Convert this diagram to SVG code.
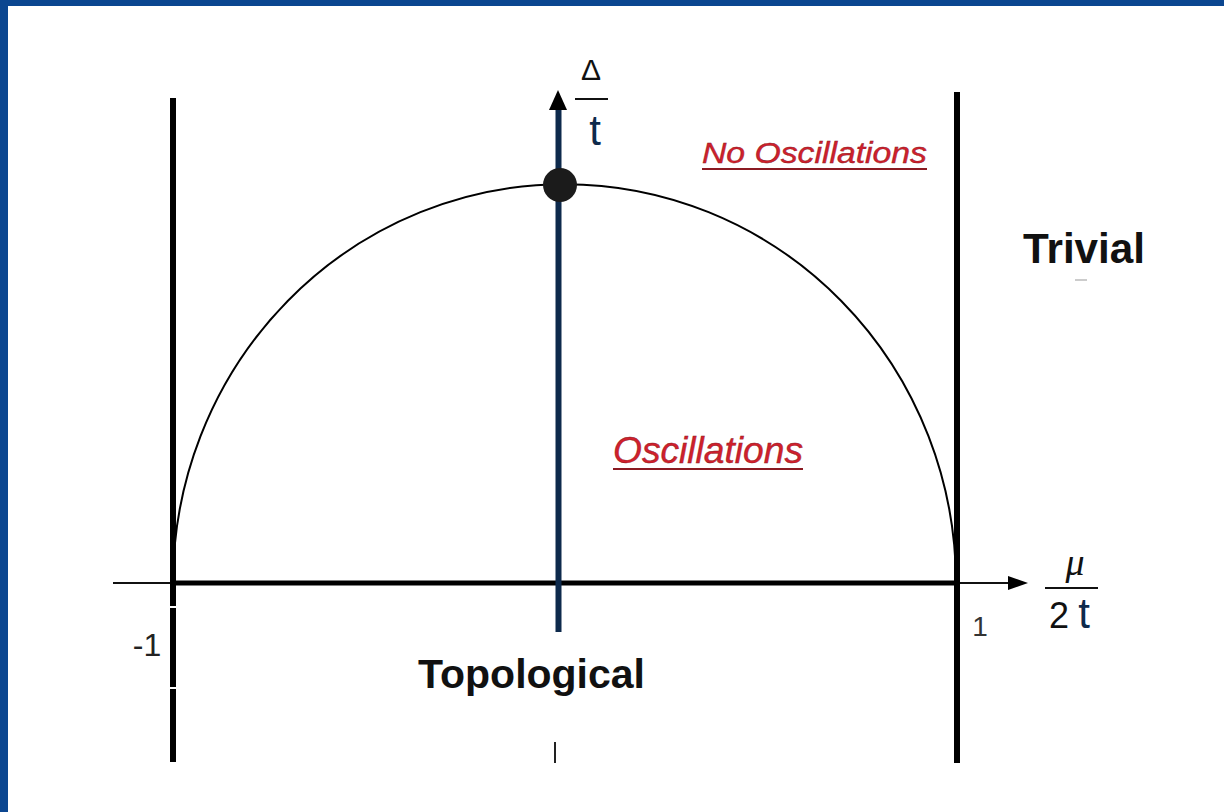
<svg xmlns="http://www.w3.org/2000/svg" width="1224" height="812" viewBox="0 0 1224 812">
<style>
.lbl{font-family:"Liberation Sans",Arial,sans-serif;fill:#111}
.bold{font-weight:bold}
.red{font-family:"Liberation Sans",Arial,sans-serif;font-style:italic;fill:#d0202c;stroke:#8a1a22;stroke-width:0.4}
.thick{stroke:#000;stroke-width:6;fill:none}
.thin{stroke:#111;stroke-width:2;fill:none}
</style>
<rect x="0" y="0" width="1224" height="812" fill="#0b4690"/>
<rect x="8" y="6" width="1216" height="806" fill="#ffffff"/>
<g id="connectors">
  <line class="thin" x1="113" y1="583" x2="1012" y2="583"/>
  <line x1="173" y1="583" x2="956" y2="583" stroke="#000" stroke-width="5"/>
  <polygon points="1008,576 1028,583 1008,590" fill="#000"/>
  <line class="thick" x1="173" y1="98" x2="173" y2="762"/>
  <rect x="168" y="606" width="10" height="2" fill="#fff"/>
  <rect x="168" y="687" width="10" height="2" fill="#fff"/>
  <line class="thick" x1="957" y1="92" x2="957" y2="763"/>
  <path d="M173,583 A391.5,399 0 0 1 956,583" stroke="#000" stroke-width="2" fill="none"/>
  <line x1="558.5" y1="108" x2="558.5" y2="632" stroke="#0e2a4c" stroke-width="6"/>
  <polygon points="558,90 567,110 549,110" fill="#000"/>
  <line x1="555" y1="742" x2="555" y2="763" stroke="#222" stroke-width="2"/>
  <line x1="1075" y1="280" x2="1087" y2="280" stroke="#bbb" stroke-width="1.5"/>
</g>
<g id="apex">
  <circle cx="560" cy="185" r="17" fill="#1b1b1b"/>
</g>
<g id="y-label">
  <text class="lbl" x="591" y="80" font-size="30" text-anchor="middle">Δ</text>
  <line x1="575" y1="99" x2="608" y2="99" stroke="#111" stroke-width="2"/>
  <text class="lbl" x="595" y="145" font-size="42" text-anchor="middle" style="fill:#0e2a4c">t</text>
</g>
<g id="x-label">
  <text x="1075" y="575" font-size="38" font-family="Liberation Serif,serif" font-style="italic" fill="#111" text-anchor="middle">μ</text>
  <line x1="1045" y1="588" x2="1098" y2="588" stroke="#111" stroke-width="2"/>
  <text class="lbl" x="1059" y="628" font-size="36" text-anchor="middle">2</text>
  <text class="lbl" x="1084" y="628" font-size="42" text-anchor="middle" style="fill:#0e2a4c">t</text>
</g>
<g id="tick-labels">
  <text class="lbl" x="980" y="636" font-size="28" text-anchor="middle" style="fill:#333">1</text>
  <text class="lbl" x="147" y="656" font-size="32" text-anchor="middle" style="fill:#222">-1</text>
</g>
<g id="no-oscillations">
  <text class="red" x="702" y="163" font-size="30" textLength="225" lengthAdjust="spacingAndGlyphs">No Oscillations</text>
  <line x1="702" y1="169" x2="927" y2="169" stroke="#8a1a22" stroke-width="2"/>
</g>
<g id="oscillations">
  <text class="red" x="613" y="463" font-size="37" textLength="190" lengthAdjust="spacingAndGlyphs">Oscillations</text>
  <line x1="613" y1="469" x2="803" y2="469" stroke="#8a1a22" stroke-width="2"/>
</g>
<g id="trivial">
  <text class="lbl bold" x="1023" y="263" font-size="42" textLength="122" lengthAdjust="spacingAndGlyphs">Trivial</text>
</g>
<g id="topological">
  <text class="lbl bold" x="418" y="688" font-size="41" textLength="227" lengthAdjust="spacingAndGlyphs">Topological</text>
</g>
</svg>
